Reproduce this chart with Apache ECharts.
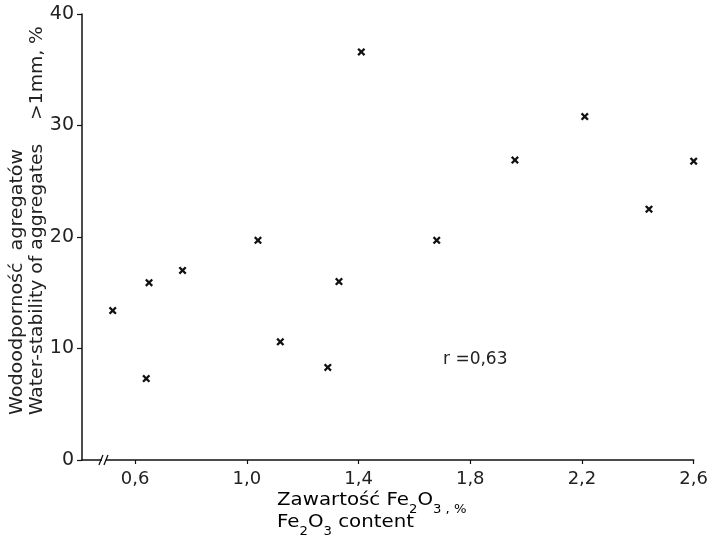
<!DOCTYPE html>
<html>
<head>
<meta charset="utf-8">
<script src="https://cdn.jsdelivr.net/npm/echarts@6/dist/echarts.min.js"></script>
<style>html,body{margin:0;padding:0;background:#fff}#c{width:711px;height:544px}</style>
</head>
<body>
<div id="c"></div>
<script>
// Data
var fe2o3 = [0.52, 0.64, 0.65, 0.77, 1.04, 1.12, 1.29, 1.33, 1.41, 1.68, 1.96, 2.21, 2.44, 2.60];
var stability = [13.4, 7.3, 15.9, 17.0, 19.7, 10.6, 8.3, 16.0, 36.6, 19.7, 26.9, 30.8, 22.5, 26.8];
var xTicks = [0.6, 1.0, 1.4, 1.8, 2.2, 2.6];
var yTicks = [0, 10, 20, 30, 40];
var corrText = 'r =0,63';

var FONT = 'DejaVu Sans';
var INK = '#222';
var points = fe2o3.map(function (v, i) { return [v, stability[i]]; });

var chart = echarts.init(document.getElementById('c'), null, {renderer: 'canvas'});
var option = {
  animation: false,
  backgroundColor: '#fff',
  grid: {left: 82, right: 14, top: 14, bottom: 84, containLabel: false},
  xAxis: {
    type: 'value', min: 0.41, max: 2.6,
    splitLine: {show: false},
    axisLine: {show: true, onZero: false, lineStyle: {color: '#111', width: 1.5}},
    axisTick: {show: true, length: 4, customValues: xTicks, lineStyle: {color: '#111', width: 1.2}},
    axisLabel: {
      customValues: xTicks, margin: 10, color: INK, fontFamily: FONT, fontSize: 18,
      formatter: function (v) { return v.toFixed(1).replace('.', ','); }
    }
  },
  yAxis: {
    type: 'value', min: 0, max: 40, interval: 10,
    splitLine: {show: false},
    axisLine: {show: true, lineStyle: {color: '#111', width: 1.5}},
    axisTick: {show: true, length: 5, lineStyle: {color: '#111', width: 1.2}},
    axisLabel: {margin: 8, color: INK, fontFamily: FONT, fontSize: 19}
  },
  series: [{
    type: 'scatter',
    data: points,
    symbol: 'path://M0,2L2,0L5,3L8,0L10,2L7,5L10,8L8,10L5,7L2,10L0,8L3,5Z',
    symbolSize: 8,
    itemStyle: {color: '#111', opacity: 1}
  }]
};
chart.setOption(option);

var rich = {
  n: {fontSize: 18, fontFamily: FONT, color: INK, verticalAlign: 'top', lineHeight: 22},
  s: {fontSize: 12, fontFamily: FONT, color: INK, lineHeight: 12, padding: [16, 0, 0, 0]}
};
var bx = chart.convertToPixel({xAxisIndex: 0}, 0.485);
var by = chart.convertToPixel({yAxisIndex: 0}, 0);

chart.setOption({
  graphic: [
    {type: 'text', x: 17, y: 415, rotation: Math.PI / 2, scaleX: 1.06,
     style: {text: 'Wodoodporność  agregatów', fontFamily: FONT, fontSize: 18, fill: INK, align: 'left', verticalAlign: 'middle'}},
    {type: 'text', x: 37, y: 415, rotation: Math.PI / 2, scaleX: 1.04,
     style: {text: 'Water-stability of aggregates    >1mm, %', fontFamily: FONT, fontSize: 18, fill: INK, align: 'left', verticalAlign: 'middle'}},
    {type: 'text', x: 277, y: 491, scaleX: 1.1,
     style: {text: '{n|Zawartość Fe}{s|2}{n|O}{s|3}{s| , %}', rich: rich, align: 'left', verticalAlign: 'top'}},
    {type: 'text', x: 277, y: 513, scaleX: 1.1,
     style: {text: '{n|Fe}{s|2}{n|O}{s|3}{n| content}', rich: rich, align: 'left', verticalAlign: 'top'}},
    {type: 'text', x: 443, y: 360,
     style: {text: corrText, fontFamily: FONT, fontSize: 17, fill: INK, align: 'left', verticalAlign: 'middle'}},
    {type: 'rect', shape: {x: bx - 1, y: by - 3, width: 4, height: 6}, style: {fill: '#fff'}, z: 100},
    {type: 'line', shape: {x1: bx - 4, y1: by + 5, x2: bx, y2: by - 5}, style: {stroke: '#111', lineWidth: 1.3}, z: 101},
    {type: 'line', shape: {x1: bx + 1, y1: by + 5, x2: bx + 5, y2: by - 5}, style: {stroke: '#111', lineWidth: 1.3}, z: 101}
  ]
});
</script>
</body>
</html>
